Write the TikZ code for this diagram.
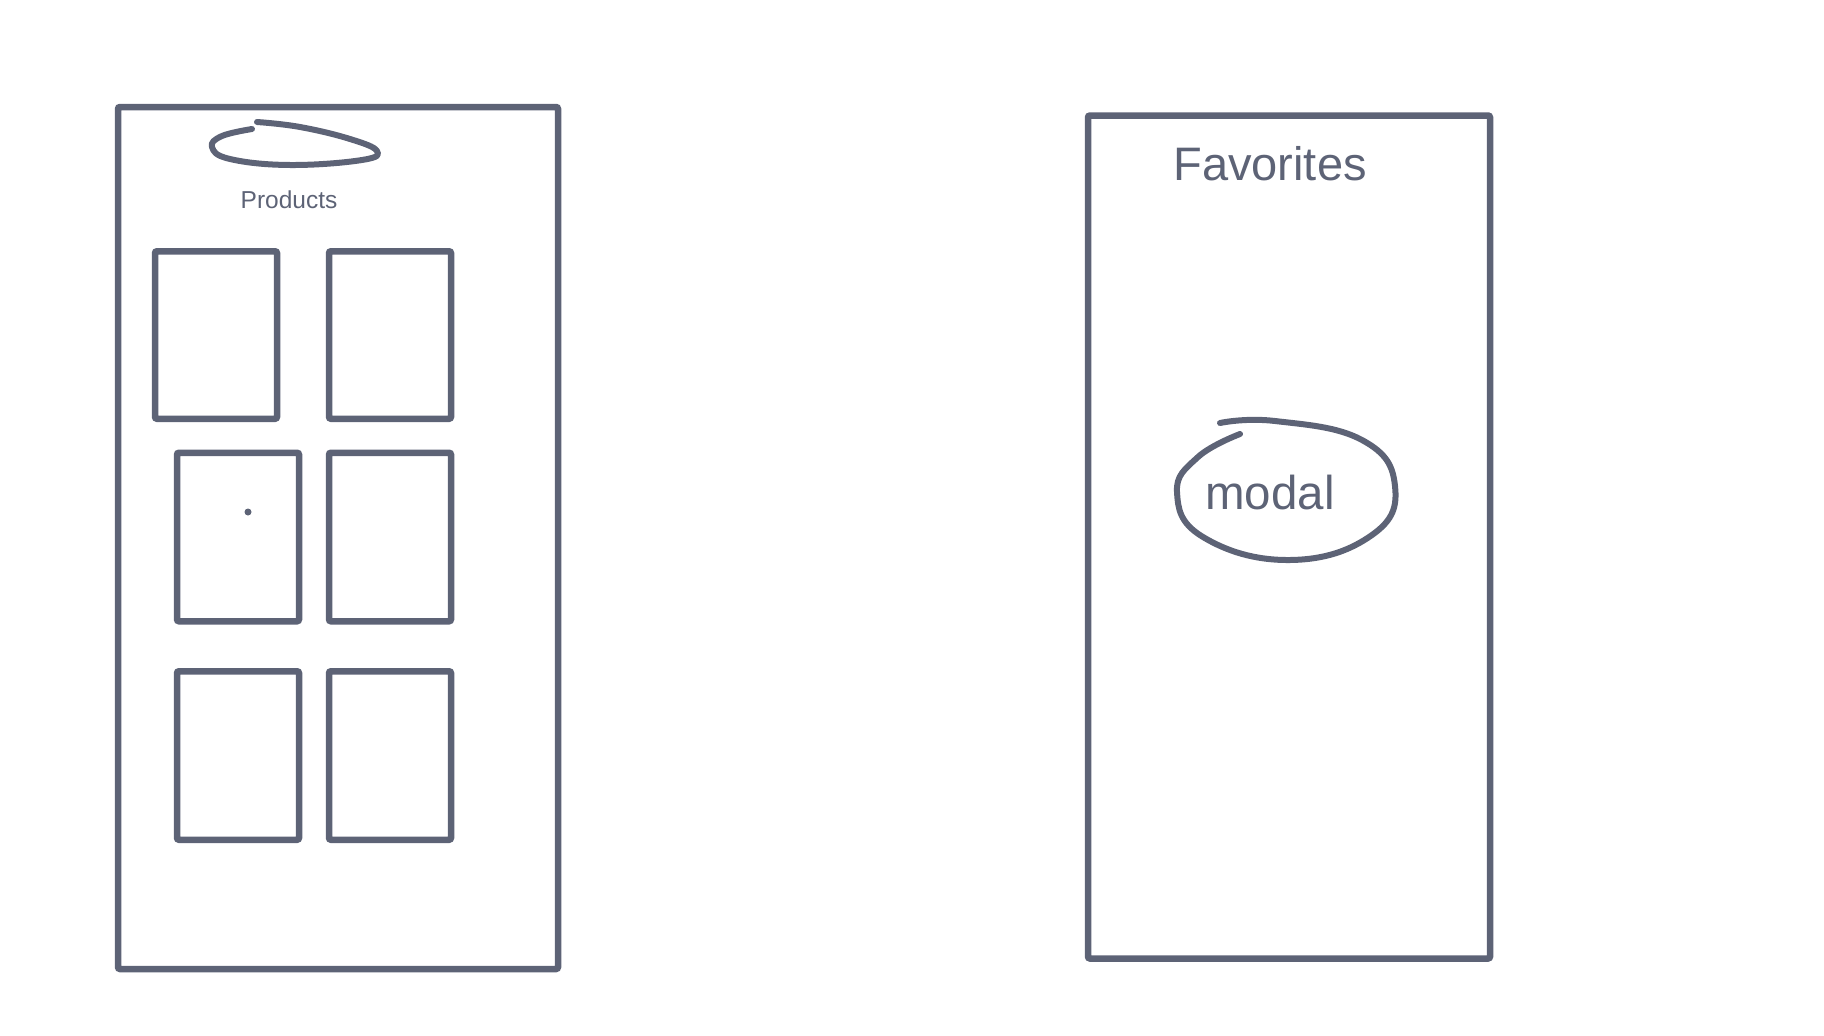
\documentclass[tikz,border=0pt]{standalone}
\usepackage{fontspec}
\setmainfont{Liberation Sans}
\usepackage{tikz}

\definecolor{ink}{HTML}{5D6376}

\tikzset{
  screen/.style={draw=ink, line width=6.5pt, rounded corners=2pt, inner sep=0pt},
  card/.style={draw=ink, line width=6.5pt, rounded corners=2pt, inner sep=0pt,
    minimum width=122pt},
  scribble/.style={draw=ink, line width=6pt, line cap=round, line join=round},
  label/.style={text=ink, inner sep=0pt}
}

\begin{document}
\begin{tikzpicture}[x=1pt, y=-1pt]
        \useasboundingbox (0,0) rectangle (1824,1036);
        % products screen
        \node [screen, minimum width=440pt, minimum height=862pt] (products) at (338,538) {};
        \draw [scribble] plot [smooth, tension=0.7] coordinates {(252,129) (222,136) (212,147) (230,159)
          (290,165) (362,160) (377,151) (350,139) (300,127) (257,122)};
        \node [label, font=\fontsize{24.5}{28}\selectfont] (productsTitle) at (289,200) {Products};
        \node [card, minimum height=167.5pt] (1) at (216,335) {};
        \node [card, minimum height=167.5pt] (2) at (390,335) {};
        \node [card, minimum height=168.5pt] (3) at (238,537) {};
        \node [card, minimum height=168.5pt] (4) at (390,537) {};
        \node [card, minimum height=168.5pt] (5) at (238,755.5) {};
        \node [card, minimum height=168.5pt] (6) at (390,755.5) {};
        \fill [ink] (248,512) circle (3.5pt);
        % favorites screen
        \node [screen, minimum width=402pt, minimum height=843pt] (favorites) at (1289,537) {};
        \node [label, font=\fontsize{47}{54}\selectfont] (favoritesTitle) at (1270,164) {Favorites};
        \node [label, font=\fontsize{47.5}{54}\selectfont] (modal) at (1270,493) {modal};
        \draw [scribble] plot [smooth, tension=0.75] coordinates {(1240,434) (1198,457) (1177,492)
          (1203,537) (1290,560) (1372,535) (1395,486) (1362,440) (1275,421) (1220,423)};
\end{tikzpicture}
\end{document}
